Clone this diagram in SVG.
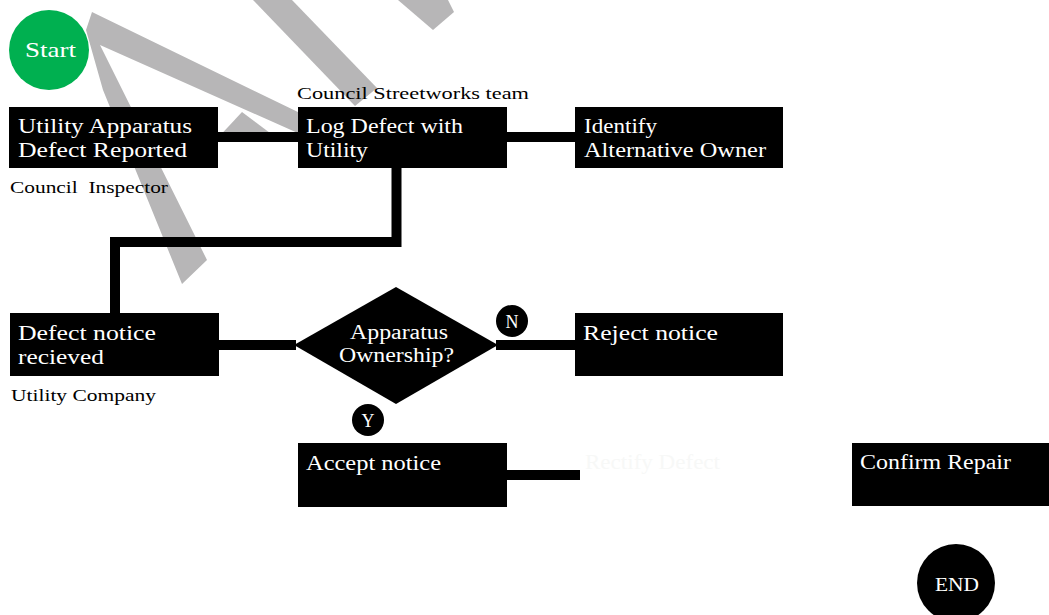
<svg xmlns="http://www.w3.org/2000/svg" width="1049" height="615" viewBox="0 0 1049 615">
<style>
.wm{fill:#b7b6b7}
.box{fill:#000}
.t{font-family:"Liberation Serif","Times New Roman",serif;font-size:20px;fill:#fff}
.lbl{font-family:"Liberation Serif","Times New Roman",serif;font-size:17.5px;fill:#000}
.c{font-family:"Liberation Serif","Times New Roman",serif;fill:#fff}
.conn{stroke:#000;stroke-width:10;fill:none;stroke-linejoin:miter;stroke-linecap:butt}
</style>
<rect width="1049" height="615" fill="#fff"/>
<g id="watermark">
<polygon class="wm" points="86,30 92,12 300,113 300,134 100,45 207,260 182,284 103,90"/>
<polygon class="wm" points="242,112 214,142 282,142"/>
<polygon class="wm" points="253,0 292,0 377,88 355,106"/>
<polygon class="wm" points="398,0 448,0 454,12 433,30"/>
</g>
<g id="connectors">
<line class="conn" x1="218" y1="137" x2="298" y2="137"/>
<line class="conn" x1="507" y1="137" x2="575" y2="137"/>
<polyline class="conn" points="396.5,168 396.5,242 115,242 115,314"/>
<line class="conn" x1="219" y1="345" x2="296" y2="345"/>
<line class="conn" x1="496" y1="345" x2="575" y2="345"/>
<line class="conn" x1="507" y1="475" x2="580" y2="475"/>
</g>
<g id="start">
<circle cx="49" cy="50" r="40" fill="#00b050"/>
<text class="c" x="25" y="57" font-size="21" textLength="51" lengthAdjust="spacingAndGlyphs">Start</text>
</g>
<g id="defect-reported">
<rect class="box" x="9" y="107" width="209" height="61"/>
<text class="t" x="18" y="133" textLength="174" lengthAdjust="spacingAndGlyphs">Utility Apparatus</text>
<text class="t" x="18" y="157" textLength="169" lengthAdjust="spacingAndGlyphs">Defect Reported</text>
<text class="lbl" x="10" y="193" textLength="158" lengthAdjust="spacingAndGlyphs" xml:space="preserve">Council  Inspector</text>
</g>
<g id="log-defect">
<text class="lbl" x="297" y="99" textLength="232" lengthAdjust="spacingAndGlyphs">Council Streetworks team</text>
<rect class="box" x="298" y="107" width="209" height="61"/>
<text class="t" x="306" y="133" textLength="157" lengthAdjust="spacingAndGlyphs">Log Defect with</text>
<text class="t" x="306" y="157" textLength="62" lengthAdjust="spacingAndGlyphs">Utility</text>
</g>
<g id="identify-owner">
<rect class="box" x="575" y="107" width="208" height="61"/>
<text class="t" x="584" y="133" textLength="73" lengthAdjust="spacingAndGlyphs">Identify</text>
<text class="t" x="584" y="157" textLength="182" lengthAdjust="spacingAndGlyphs">Alternative Owner</text>
</g>
<g id="notice-received">
<rect class="box" x="10" y="313" width="209" height="63"/>
<text class="t" x="18" y="340" textLength="138" lengthAdjust="spacingAndGlyphs">Defect notice</text>
<text class="t" x="18" y="364" textLength="86" lengthAdjust="spacingAndGlyphs">recieved</text>
<text class="lbl" x="11" y="401" textLength="145" lengthAdjust="spacingAndGlyphs">Utility Company</text>
</g>
<g id="ownership-decision">
<polygon class="box" points="396,287 498,345 396,404 294,345"/>
<text class="t" x="350" y="339" textLength="98" lengthAdjust="spacingAndGlyphs">Apparatus</text>
<text class="t" x="339" y="362" textLength="115" lengthAdjust="spacingAndGlyphs">Ownership?</text>
</g>
<g id="label-n">
<circle cx="512" cy="321" r="16" fill="#000"/>
<text class="c" x="512" y="328" font-size="18" text-anchor="middle">N</text>
</g>
<g id="label-y">
<circle cx="368" cy="420" r="16" fill="#000"/>
<text class="c" x="368" y="427" font-size="18" text-anchor="middle">Y</text>
</g>
<g id="reject-notice">
<rect class="box" x="575" y="313" width="208" height="63"/>
<text class="t" x="583" y="340" textLength="135" lengthAdjust="spacingAndGlyphs">Reject notice</text>
</g>
<g id="accept-notice">
<rect class="box" x="298" y="443" width="209" height="64"/>
<text class="t" x="306" y="470" textLength="135" lengthAdjust="spacingAndGlyphs">Accept notice</text>
</g>
<g id="rectify-defect">
<text class="t" x="585" y="469" textLength="135" lengthAdjust="spacingAndGlyphs" style="fill:#f7f8f7">Rectify Defect</text>
</g>
<g id="confirm-repair">
<rect class="box" x="852" y="443" width="197" height="63"/>
<text class="t" x="860" y="469" textLength="151" lengthAdjust="spacingAndGlyphs">Confirm Repair</text>
</g>
<g id="end">
<circle cx="956" cy="583" r="39" fill="#000"/>
<text class="c" x="935" y="591" font-size="19" textLength="44" lengthAdjust="spacingAndGlyphs">END</text>
</g>
</svg>
